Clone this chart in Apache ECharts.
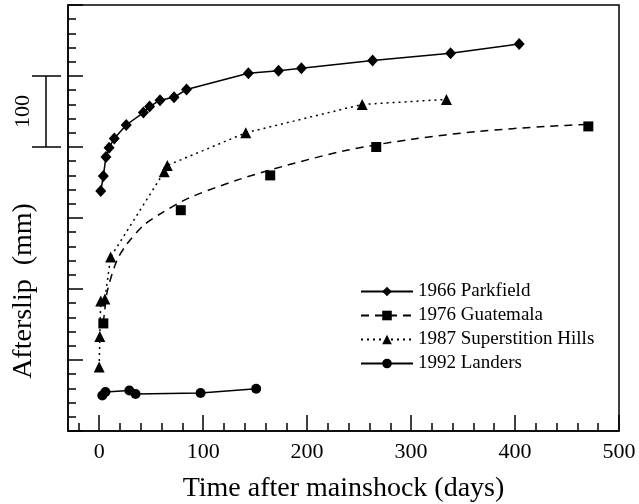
<!DOCTYPE html>
<html>
<head>
<meta charset="utf-8">
<script src="https://cdn.jsdelivr.net/npm/echarts@6/dist/echarts.min.js"></script>
<style>
  html, body { margin: 0; padding: 0; background: #fff; }
  #chart { width: 639px; height: 504px; }
</style>
</head>
<body>
<div id="chart"></div>
<script>
// Afterslip curves of four strike-slip earthquakes (curves offset vertically)
const seriesNames = ['1966 Parkfield', '1976 Guatemala', '1987 Superstition Hills', '1992 Landers'];

const parkfieldDays = [1.5, 4, 6.5, 9.5, 14.5, 26, 42.5, 48.5, 58.5, 72, 84, 143.5, 172.5, 194.5, 263, 338, 404];
const parkfieldSlip = [338, 359, 386, 399, 412, 431, 448.5, 457, 466, 470, 481, 504, 507.5, 511, 522, 532, 545];

const guatemalaDays = [4, 78.5, 164.5, 266.5, 470.5];
const guatemalaSlip = [151.5, 311, 360, 400, 429];
const guatemalaFitDays = [4, 5, 8, 17, 27, 43, 60, 86, 134, 180, 237, 301, 365, 430, 474];
const guatemalaFitSlip = [152, 166, 198, 240, 264, 290, 307, 328, 354, 374, 395, 411, 422, 429, 432];

const superstitionDays = [0, 0.6, 1.5, 5.5, 11, 62.5, 65.5, 141, 253, 334];
const superstitionSlip = [90, 133, 183, 186, 245, 365, 374, 420, 460, 467];

const landersDays = [3, 6, 29, 35, 97.5, 151];
const landersSlip = [50, 55, 57, 52, 53.5, 59.5];

const xTickValues = [0, 100, 200, 300, 400, 500];
const xMinorTickValues = [-20, 20, 40, 60, 80, 120, 140, 160, 180, 220, 240, 260, 280,
                          320, 340, 360, 380, 420, 440, 460, 480];
const scaleBarLabel = '100';
const scaleBarRange = [400, 500];

const FONT = '"Liberation Serif", "Times New Roman", serif';
const INK = '#000';

const zip = (xs, ys) => xs.map((x, i) => [x, ys[i]]);

const chart = echarts.init(document.getElementById('chart'), null, { renderer: 'canvas' });

const tickLine = { color: INK, width: 1.5 };

chart.setOption({
  animation: false,
  backgroundColor: '#fff',
  grid: {
    left: 68, right: 20, top: 5, bottom: 73,
    outerBoundsMode: 'none', containLabel: false,
    show: true, borderColor: INK, borderWidth: 1.5, backgroundColor: 'transparent'
  },
  legend: {
    data: seriesNames,
    orient: 'vertical',
    left: 360, top: 282, padding: 0,
    itemWidth: 52, itemHeight: 12, itemGap: 5,
    selectedMode: false,
    textStyle: { fontFamily: FONT, fontSize: 19, color: INK, lineHeight: 19 }
  },
  xAxis: [
    {
      type: 'value', min: -30, max: 500, position: 'bottom',
      axisLine: { show: true, onZero: false, lineStyle: { color: INK, width: 1.5 } },
      axisTick: { show: true, inside: true, length: 16, customValues: xTickValues, lineStyle: tickLine },
      axisLabel: { customValues: xTickValues, color: INK, fontFamily: FONT, fontSize: 22, margin: 10 },
      splitLine: { show: false },
      name: 'Time after mainshock (days)',
      nameLocation: 'middle', nameGap: 44,
      nameTextStyle: { fontFamily: FONT, fontSize: 28, color: INK }
    },
    {
      type: 'value', min: -30, max: 500, position: 'bottom',
      axisLine: { show: false, onZero: false },
      axisTick: { show: true, inside: true, length: 8, customValues: xMinorTickValues, lineStyle: tickLine },
      axisLabel: { show: false },
      splitLine: { show: false }
    }
  ],
  yAxis: {
    type: 'value', min: 0, max: 600, interval: 100,
    axisLine: { show: true, onZero: false, lineStyle: { color: INK, width: 1.5 } },
    axisTick: { show: true, inside: true, length: 15, lineStyle: tickLine },
    minorTick: { show: true, splitNumber: 5, length: 8, lineStyle: tickLine },
    axisLabel: { show: false },
    splitLine: { show: false },
    minorSplitLine: { show: false },
    name: 'Afterslip  (mm)',
    nameLocation: 'middle', nameGap: 30,
    nameTextStyle: { fontFamily: FONT, fontSize: 28, color: INK, padding: [0, 146, 0, 0] }
  },
  series: [
    {
      name: seriesNames[0], type: 'line',
      data: zip(parkfieldDays, parkfieldSlip),
      symbol: 'diamond', symbolSize: [11, 12],
      lineStyle: { color: INK, width: 1.5 },
      itemStyle: { color: INK }
    },
    {
      name: seriesNames[1], type: 'line',
      data: zip(guatemalaFitDays, guatemalaFitSlip),
      smooth: 0.3,
      symbol: 'rect', symbolSize: 10, showSymbol: false,
      lineStyle: { color: INK, width: 1.5, type: [8, 6] },
      itemStyle: { color: INK }
    },
    {
      name: seriesNames[1], type: 'scatter',
      data: zip(guatemalaDays, guatemalaSlip),
      symbol: 'rect', symbolSize: 10,
      itemStyle: { color: INK, opacity: 1 },
      z: 3
    },
    {
      name: seriesNames[2], type: 'line',
      data: zip(superstitionDays, superstitionSlip),
      symbol: 'triangle', symbolSize: 11,
      lineStyle: { color: INK, width: 1.5, type: [2, 4] },
      itemStyle: { color: INK }
    },
    {
      name: seriesNames[3], type: 'line',
      data: zip(landersDays, landersSlip),
      symbol: 'circle', symbolSize: 10,
      lineStyle: { color: INK, width: 1.5 },
      itemStyle: { color: INK }
    }
  ]
});

// 100 mm scale bar beside the y axis, placed through the axis scale
const barTop = chart.convertToPixel({ yAxisIndex: 0 }, scaleBarRange[1]);
const barBottom = chart.convertToPixel({ yAxisIndex: 0 }, scaleBarRange[0]);
const barStroke = { stroke: INK, lineWidth: 1.5 };
chart.setOption({
  graphic: [
    { type: 'line', shape: { x1: 46, y1: barTop, x2: 46, y2: barBottom }, style: barStroke },
    { type: 'line', shape: { x1: 32, y1: barTop, x2: 61, y2: barTop }, style: barStroke },
    { type: 'line', shape: { x1: 32, y1: barBottom, x2: 61, y2: barBottom }, style: barStroke },
    {
      type: 'text', x: 23.5, y: (barTop + barBottom) / 2, rotation: Math.PI / 2,
      style: { text: scaleBarLabel, fontFamily: FONT, fontSize: 22, fill: INK, align: 'center', verticalAlign: 'middle' }
    }
  ]
});
</script>
</body>
</html>
